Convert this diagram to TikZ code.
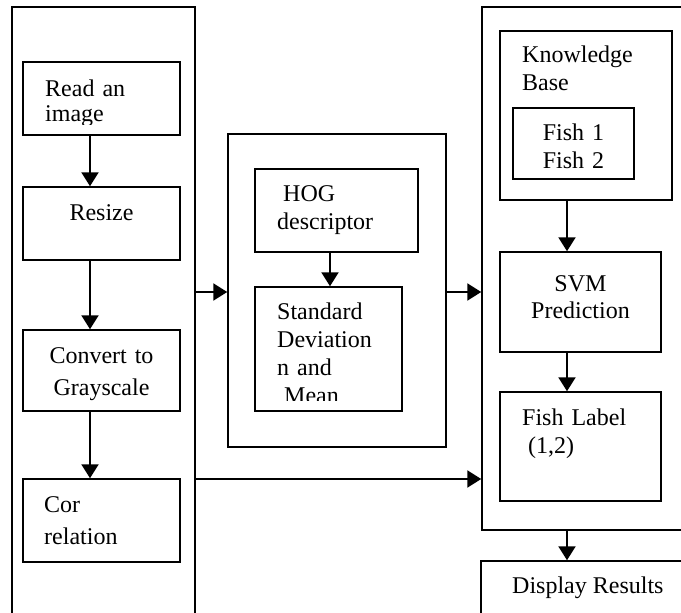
\documentclass[tikz,border=0pt]{standalone}
\usepackage{fontspec}
\setmainfont{Liberation Serif}
\usetikzlibrary{arrows.meta}
\tikzset{
  blk/.style={draw, line width=1.5pt, inner sep=0pt},
  lbl/.style={inner sep=0pt, font=\fontsize{24}{28}\selectfont, text width=#1, align=left},
  clbl/.style={inner sep=0pt, font=\fontsize{24}{28}\selectfont, text width=#1, align=center},
  arr/.style={line width=2.2pt, -{Triangle[length=14pt,width=17pt]}}
}

\begin{document}
\begin{tikzpicture}[x=1pt,y=-1pt]
  \clip (0,0) rectangle (681,613);

  % preprocessing column
  \node[blk, minimum width=183, minimum height=618] (prep) at (103.5,316) {};
  \node[blk, minimum width=157, minimum height=73] (read) at (101.5,98.5) {};
  \node[blk, minimum width=157, minimum height=73] (resize) at (101.5,223.5) {};
  \node[blk, minimum width=157, minimum height=81] (gray) at (101.5,370.5) {};
  \node[blk, minimum width=157, minimum height=83] (corr) at (101.5,520.5) {};

  \begin{scope}
    \clip (23,62) rectangle (180,124);
    \node[lbl=130pt, anchor=base west, font=\fontsize{24}{25}\selectfont] (readt) at (45,96.7) {Read an\\image};
  \end{scope}
  \node[clbl=157pt, anchor=base] (resizet) at (101.5,220) {Resize};
  \node[clbl=157pt, anchor=base, font=\fontsize{24}{32}\selectfont] (grayt) at (101.5,363) {Convert to\\Grayscale};
  \node[lbl=130pt, anchor=base west, font=\fontsize{24}{32}\selectfont] (corrt) at (44,512) {Cor\\relation};

  % feature extraction
  \node[blk, minimum width=218, minimum height=313] (feat) at (337,290.5) {};
  \node[blk, minimum width=163, minimum height=83] (hog) at (336.5,210.5) {};
  \node[blk, minimum width=147, minimum height=124] (stdm) at (328.5,349) {};
  \node[lbl=130pt, anchor=base west] (hogt) at (277,201.5) {\hspace*{6pt}HOG\\descriptor};
  \begin{scope}
    \clip (255,287) rectangle (402,400);
    \node[lbl=120pt, anchor=base west] (stdmt) at (277,319) {Standard\\Deviation\\n and\\\hspace*{7pt}Mean};
  \end{scope}

  % classification
  \node[blk, minimum width=218, minimum height=523] (cls) at (591,268.5) {};
  \node[blk, minimum width=172, minimum height=169] (kb) at (586,115.5) {};
  \node[blk, minimum width=121, minimum height=71] (fish) at (573.5,143.5) {};
  \node[lbl=140pt, anchor=base west] (kbt) at (522,63) {Knowledge\\Base};
  \node[clbl=121pt, anchor=base] (fisht) at (573.5,140) {Fish 1\\Fish 2};
  \node[blk, minimum width=161, minimum height=100] (svm) at (580.5,302) {};
  \node[clbl=161pt, anchor=base, font=\fontsize{24}{27}\selectfont] (svmt) at (580.5,291) {SVM\\Prediction};
  \node[blk, minimum width=161, minimum height=109] (flabel) at (580.5,446.5) {};
  \node[lbl=140pt, anchor=base west] (flabelt) at (522,425) {Fish Label\\\hspace*{6pt}(1,2)};
  \node[blk, minimum width=219, minimum height=69] (disp) at (590.5,595.5) {};
  \node[inner sep=0pt, anchor=base west, font=\fontsize{24}{28}\selectfont] (dispt) at (512,593) {Display Results};

  % arrows
  \coordinate (lcol) at (90,0);
  \coordinate (mcol) at (330,0);
  \coordinate (rcol) at (567,0);
  \coordinate (ya) at (0,292);
  \coordinate (yb) at (0,479);

  \draw[arr] (read.south -| lcol) -- (resize.north -| lcol);
  \draw[arr] (resize.south -| lcol) -- (gray.north -| lcol);
  \draw[arr] (gray.south -| lcol) -- (corr.north -| lcol);
  \draw[arr] (prep.east |- ya) -- (feat.west |- ya);
  \draw[arr] (feat.east |- ya) -- (cls.west |- ya);
  \draw[arr] (prep.east |- yb) -- (cls.west |- yb);
  \draw[arr] (hog.south -| mcol) -- (stdm.north -| mcol);
  \draw[arr] (kb.south -| rcol) -- (svm.north -| rcol);
  \draw[arr] (svm.south -| rcol) -- (flabel.north -| rcol);
  \draw[arr] (cls.south -| rcol) -- (disp.north -| rcol);
\end{tikzpicture}
\end{document}
